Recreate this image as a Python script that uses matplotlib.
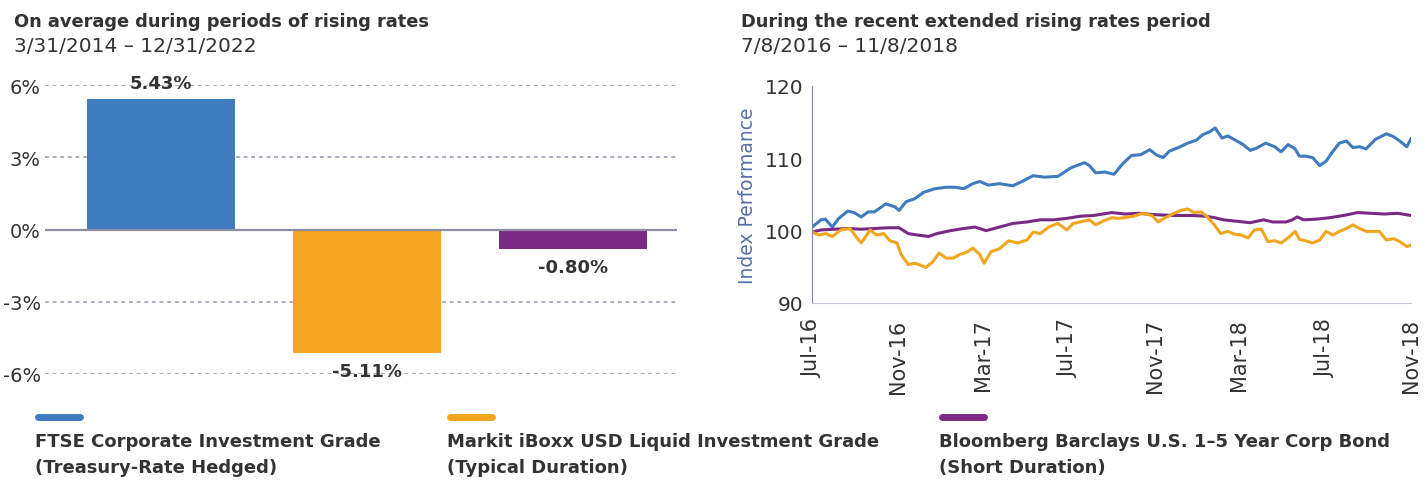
import pandas as pd
import matplotlib.pyplot as plt
import matplotlib.dates as mdates
from matplotlib.lines import Line2D
from matplotlib.ticker import FuncFormatter

plt.rcParams['font.family'] = ['DejaVu Sans']

BLUE = '#3f7bbf'
ORANGE = '#f2a51f'
PURPLE = '#7a2a84'
TEXT = '#333333'

# average excess return during rising-rate periods
bar_values = [5.43, -5.11, -0.80]
bar_colors = [BLUE, ORANGE, PURPLE]
pct_ticks = [-6, -3, 0, 3, 6]

# index performance, 7/8/2016 = start, sampled by days since start
start = pd.Timestamp('2016-07-08')
end = pd.Timestamp('2018-11-08')
ftse_days = [0, 13, 19, 29, 38, 51, 60, 70, 80, 89, 105, 118, 124, 134, 146, 159, 175, 191,
             204, 216, 229, 239, 251, 267, 286, 299, 315, 331, 350, 369, 388, 395, 404, 417,
             430, 442, 455, 468, 481, 490, 500, 509, 522, 535, 547, 557, 567, 574, 584, 592,
             605, 614, 624, 633, 646, 659, 668, 678, 688, 694, 703, 713, 723, 732, 742, 751,
             761, 770, 780, 789, 802, 818, 828, 837, 847, 853]
ftse_vals = [100.5, 101.5, 101.6, 100.5, 101.7, 102.7, 102.5, 101.9, 102.6, 102.6, 103.7, 103.3,
             102.8, 104.0, 104.4, 105.3, 105.8, 106.0, 106.0, 105.8, 106.5, 106.8, 106.3, 106.5,
             106.2, 106.8, 107.6, 107.4, 107.5, 108.7, 109.4, 109.0, 108.0, 108.1, 107.8, 109.2,
             110.4, 110.5, 111.2, 110.5, 110.1, 111.0, 111.5, 112.1, 112.5, 113.3, 113.7, 114.2,
             112.8, 113.1, 112.4, 111.9, 111.1, 111.4, 112.1, 111.6, 110.9, 111.9, 111.3, 110.3,
             110.3, 110.1, 109.0, 109.6, 111.0, 112.1, 112.4, 111.5, 111.6, 111.3, 112.6, 113.4,
             113.0, 112.4, 111.6, 112.7]

iboxx_days = [0, 10, 19, 29, 41, 54, 64, 70, 83, 92, 102, 111, 121, 127, 137, 146, 153, 162,
              172, 181, 191, 201, 210, 220, 229, 239, 245, 255, 267, 280, 293, 306, 315, 325,
              337, 350, 363, 372, 382, 395, 404, 414, 427, 436, 446, 458, 471, 484, 493, 503,
              516, 525, 535, 544, 554, 563, 573, 582, 592, 602, 611, 621, 630, 640, 649, 659,
              668, 678, 688, 694, 703, 713, 723, 732, 742, 751, 761, 770, 780, 789, 799, 808,
              818, 828, 837, 847, 853]
iboxx_vals = [99.8, 99.4, 99.6, 99.2, 100.1, 100.3, 99.0, 98.3, 100.1, 99.4, 99.6, 98.6, 98.3,
              96.7, 95.3, 95.5, 95.3, 94.9, 95.7, 96.9, 96.2, 96.2, 96.7, 97.0, 97.6, 96.7, 95.5,
              97.1, 97.5, 98.6, 98.3, 98.7, 99.8, 99.6, 100.5, 101.0, 100.1, 101.0, 101.2, 101.5,
              100.8, 101.3, 101.8, 101.7, 101.8, 102.0, 102.4, 102.1, 101.2, 101.8, 102.4, 102.8,
              103.0, 102.5, 102.6, 101.9, 100.8, 99.6, 99.9, 99.5, 99.4, 99.0, 100.1, 100.2, 98.5,
              98.6, 98.3, 99.0, 99.9, 98.8, 98.6, 98.3, 98.7, 99.9, 99.4, 99.9, 100.3, 100.8,
              100.3, 99.9, 99.9, 99.9, 98.7, 98.9, 98.5, 97.8, 98.0]

bbg_days = [0, 13, 32, 51, 70, 89, 108, 124, 137, 150, 166, 178, 197, 216, 232, 248, 267, 286,
            306, 325, 344, 363, 382, 401, 427, 446, 465, 490, 516, 541, 560, 573, 586, 605, 624,
            643, 656, 675, 684, 691, 700, 719, 738, 757, 777, 796, 815, 834, 853]
bbg_vals = [99.8, 100.1, 100.2, 100.3, 100.2, 100.3, 100.4, 100.4, 99.6, 99.4, 99.2, 99.6, 100.0,
            100.3, 100.5, 100.0, 100.5, 101.0, 101.2, 101.5, 101.5, 101.7, 102.0, 102.1, 102.5,
            102.3, 102.4, 102.2, 102.1, 102.1, 102.0, 101.8, 101.5, 101.3, 101.1, 101.5, 101.2,
            101.2, 101.5, 101.9, 101.5, 101.6, 101.8, 102.1, 102.5, 102.4, 102.3, 102.4, 102.1]

date_ticks = pd.date_range(start, end, freq=pd.DateOffset(months=4))

legend_labels = ['FTSE Corporate Investment Grade\n(Treasury-Rate Hedged)',
                 'Markit iBoxx USD Liquid Investment Grade\n(Typical Duration)',
                 'Bloomberg Barclays U.S. 1\u20135 Year Corp Bond\n(Short Duration)']

W, H = 1427, 481
fig = plt.figure(figsize=(W / 100, H / 100), dpi=100)

# ---- left: bar chart
ax1 = fig.add_axes([45 / W, 1 - 375 / H, 632 / W, 289 / H])
x = range(len(bar_values))
ax1.bar(x, bar_values, width=0.72, color=bar_colors, zorder=3)
ax1.set_xlim(-0.563, 2.505)
ax1.set_ylim(-6, 6)
ax1.set_yticks(pct_ticks)
ax1.yaxis.set_major_formatter(FuncFormatter(lambda v, p: f'{v:.0f}%'))
for t in pct_ticks:
    if t == 0:
        ax1.axhline(0, color='#8c8fa3', lw=1.6, zorder=4)
    else:
        ax1.axhline(t, color='#9396ad', lw=1.1, ls=(0, (2.5, 2.5)), zorder=1)
for s in ax1.spines.values():
    s.set_visible(False)
ax1.set_xticks([])
ax1.tick_params(axis='y', length=0, pad=3, labelsize=14, labelcolor=TEXT)
for i, v in enumerate(bar_values):
    off = 11 if v > 0 else -13
    ax1.annotate(f'{v:.2f}%', (i, v), xytext=(0, off), textcoords='offset points',
                 ha='center', va='center', fontsize=13, fontweight='bold',
                 color=TEXT, zorder=5, annotation_clip=False)

# ---- right: index performance lines
ax2 = fig.add_axes([812 / W, 1 - 304 / H, 599 / W, 217 / H])
for days, vals, c in [(ftse_days, ftse_vals, BLUE), (bbg_days, bbg_vals, PURPLE),
                      (iboxx_days, iboxx_vals, ORANGE)]:
    dates = start + pd.to_timedelta(days, unit='D')
    ax2.plot(dates, vals, color=c, lw=2.2, solid_joinstyle='round')
ax2.set_xlim(start, end)
ax2.set_ylim(90, 120)
ax2.set_yticks([90, 100, 110, 120])
ax2.set_xticks(date_ticks)
ax2.xaxis.set_major_formatter(mdates.DateFormatter('%b-%y'))
ax2.tick_params(axis='x', rotation=90, length=0, pad=11, labelsize=15, labelcolor=TEXT)
ax2.tick_params(axis='y', length=0, pad=6, labelsize=14.5, labelcolor=TEXT)
ax2.spines['top'].set_visible(False)
ax2.spines['right'].set_visible(False)
ax2.spines['left'].set_color('#8088aa')
ax2.spines['bottom'].set_color('#c5c8d4')
ax2.set_ylabel('Index Performance', color='#5570aa', fontsize=13.5, labelpad=6)

# ---- titles
fig.text(14 / W, 1 - 22 / H, 'On average during periods of rising rates', fontsize=12.8,
         fontweight='bold', color=TEXT, va='center')
fig.text(14 / W, 1 - 47 / H, '3/31/2014 \u2013 12/31/2022', fontsize=14.5, color=TEXT, va='center')
fig.text(741 / W, 1 - 22 / H, 'During the recent extended rising rates period', fontsize=12.8,
         fontweight='bold', color=TEXT, va='center')
fig.text(741 / W, 1 - 47 / H, '7/8/2016 \u2013 11/8/2018', fontsize=14.5, color=TEXT, va='center')

# ---- legend
for x0, c, lab in zip([35, 447, 939], bar_colors, legend_labels):
    fig.add_artist(Line2D([(x0 + 3) / W, (x0 + 45) / W], [1 - 418 / H] * 2, color=c, lw=5,
                          solid_capstyle='round', transform=fig.transFigure))
    fig.text(x0 / W, 1 - 455 / H, lab, fontsize=13, fontweight='bold', color=TEXT,
             va='center', linespacing=1.55)

fig.savefig('out.png', dpi=100)
